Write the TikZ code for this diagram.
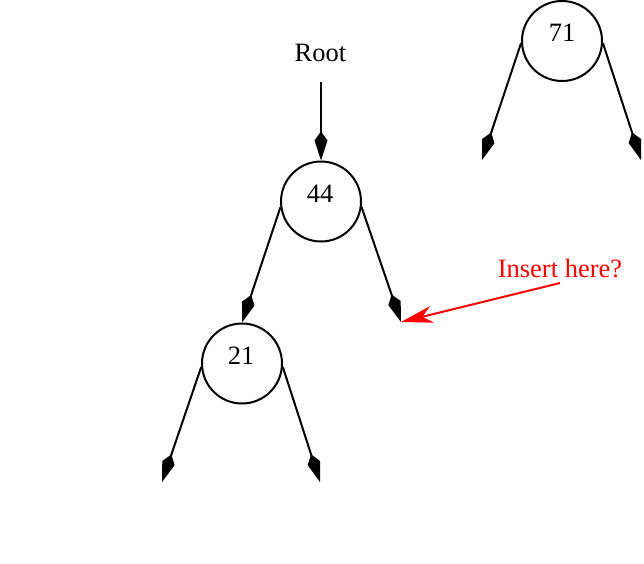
\documentclass[tikz,border=0pt]{standalone}
\usepackage{fontspec}
\setmainfont{Liberation Serif}
\usetikzlibrary{arrows.meta}
\begin{document}
\begin{tikzpicture}[x=1pt,y=-1pt,
  every node/.style={font=\fontsize{26.5}{30}\selectfont},
  keynode/.style={circle,draw,line width=2pt,minimum size=80pt,inner sep=0pt},
  keytext/.style={inner sep=0pt},
  link/.style={line width=2pt,-{Kite[length=29pt,width=13pt,inset=9pt]}},
  hint/.style={red,line width=2pt,-{Stealth[length=32pt,width=17pt,inset=10pt]}}]
  \useasboundingbox (0,0) rectangle (644,563);
  \clip (0,0) rectangle (644,563);

  % tree nodes
  \node[keynode] (n44) at (321,201.5) {};
  \node[keytext] (t44) at (320,194) {44};
  \node[keynode] (n21) at (242,363.5) {};
  \node[keytext] (t21) at (241,356) {21};
  \node[keynode] (n71) at (562,41) {};
  \node[keytext] (t71) at (562,33) {71};

  % empty child slots
  \coordinate (l21) at (162,482);
  \coordinate (r21) at (320,482);
  \coordinate (r44) at (401,322);
  \coordinate (l71) at (482,160);
  \coordinate (r71) at (641,160);

  % root pointer
  \node[keytext] (root) at (320.5,53) {Root};
  \coordinate (rootstart) at (321,82);
  \draw[link] (rootstart) -- (n44.north);

  % child links
  \draw[link] (n44.188) -- (n21.north);
  \draw[link] (n44.-8) -- (r44);
  \draw[link] (n21.185) -- (l21);
  \draw[link] (n21.-5) -- (r21);
  \draw[link] (n71.183) -- (l71);
  \draw[link] (n71.-3) -- (r71);

  % insertion hint
  \node[keytext,red] (ins) at (560,268) {Insert here?};
  \coordinate (insstart) at (560,283);
  \draw[hint] (insstart) -- (r44);
\end{tikzpicture}
\end{document}
